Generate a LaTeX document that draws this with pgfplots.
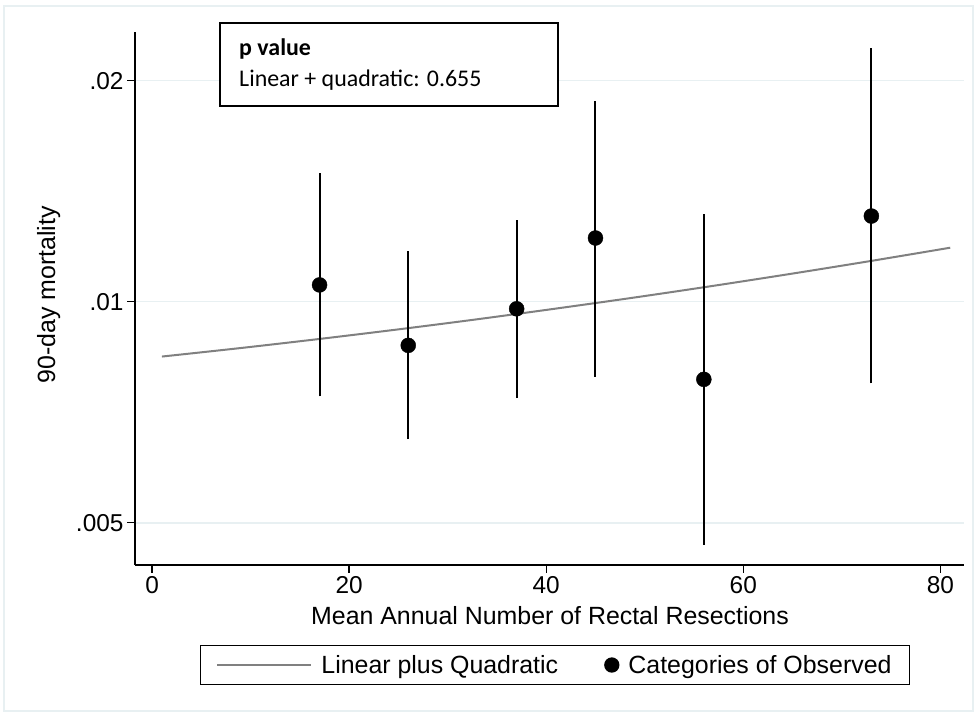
\documentclass[border=0pt]{standalone}
\usepackage{fontspec}
\setmainfont{Liberation Sans}
\newfontfamily\carlito{Carlito}
\usepackage{pgfplots}
\pgfplotsset{compat=1.18}
\definecolor{gridc}{HTML}{E8F0F2}
\definecolor{fitc}{HTML}{808080}

\pgfplotstableread{
x y
1 0.008420
9 0.008648
17 0.008898
25 0.009169
33 0.009464
41 0.009787
49 0.010134
57 0.010512
65 0.010922
73 0.011365
81 0.011844
}\fitdata

\pgfplotstableread{
x y
17 0.01054
26 0.00872
37 0.00978
45 0.01221
56 0.00784
73 0.01308
}\obsdata

\pgfplotstableread{
x y
17 0.00743
17 0.01496
17 nan
26 0.00650
26 0.01173
26 nan
37 0.00739
37 0.01292
37 nan
45 0.00791
45 0.01879
45 nan
56 0.00467
56 0.01316
56 nan
73 0.00774
73 0.02217
}\cidata

\begin{document}
\begin{tikzpicture}
\begin{axis}[
  scale only axis, width=829bp, height=533bp,
  ymode=log,
  xmin=-1.73, xmax=82.4, ymin=0.00438, ymax=0.02329,
  axis x line*=bottom, axis y line*=left,
  axis line style={black, line width=1.3bp},
  xtick={0,20,40,60,80},
  ytick={0.005,0.01,0.02}, yticklabels={.005,.01,.02},
  yminorticks=false, xminorticks=false,
  tick align=outside, major tick length=8bp,
  major tick style={black, line width=1.3bp},
  ymajorgrids, major grid style={gridc, line width=1.5bp},
  /pgf/number format/assume math mode=true,
  tick label style={font=\fontsize{24.5}{24.5}\selectfont},
  xlabel={Mean Annual Number of Rectal Resections},
  ylabel={90-day mortality},
  xlabel style={font=\fontsize{25}{25}\selectfont, at={(axis description cs:0.5006,-0.1107)}, anchor=base},
  ylabel style={font=\fontsize{25}{25}\selectfont, at={(axis description cs:-0.1040,0.5066)}, anchor=center, rotate=0},
  clip=false,
  legend columns=2,
  legend style={at={(axis description cs:0.5066,-0.1876)}, anchor=center,
    draw=black, line width=1.3bp, font=\fontsize{25}{25}\selectfont,
    /tikz/every even column/.append style={column sep=44bp},
    /tikz/every odd column/.append style={column sep=7bp},
    inner xsep=16bp, inner ysep=8bp},
]
\addplot[fitc, line width=2bp, smooth,
  legend image code/.code={\draw[fitc, line width=2bp] (0bp,0bp) -- (94bp,0bp);}]
  table {\fitdata};
\addlegendentry{Linear plus Quadratic}
\addplot[black, line width=2bp, forget plot, unbounded coords=jump] table {\cidata};
\addplot[only marks, mark=*, mark size=7.5bp, black,
  legend image code/.code={\fill[black] (7.5bp,0bp) circle (7bp);}] table {\obsdata};
\addlegendentry{Categories of Observed}

\node[draw=black, line width=1.8bp, anchor=north west, minimum width=338bp,
  minimum height=83bp, inner sep=0pt, fill=white]
  at (axis description cs:0.1013,1.0188) {};
\node[anchor=base west, inner sep=0pt, font=\carlito\bfseries\fontsize{24}{24}\selectfont]
  at (axis description cs:0.1255,0.9568) {p value};
\node[anchor=base west, inner sep=0pt, font=\carlito\fontsize{24}{24}\selectfont]
  at (axis description cs:0.1255,0.8987) {Linear + quadratic: 0.655};

\coordinate (bl) at (axis description cs:-0.16285,-0.2833);
\coordinate (tr) at (axis description cs:1.01568,1.06004);
\coordinate (fbl) at (axis description cs:-0.158,-0.274);
\coordinate (ftr) at (axis description cs:1.0109,1.0488);
\end{axis}
\draw[gridc, line width=2bp] (fbl) rectangle (ftr);
\pgfresetboundingbox
\path[use as bounding box] (bl) rectangle (tr);
\end{tikzpicture}
\end{document}
